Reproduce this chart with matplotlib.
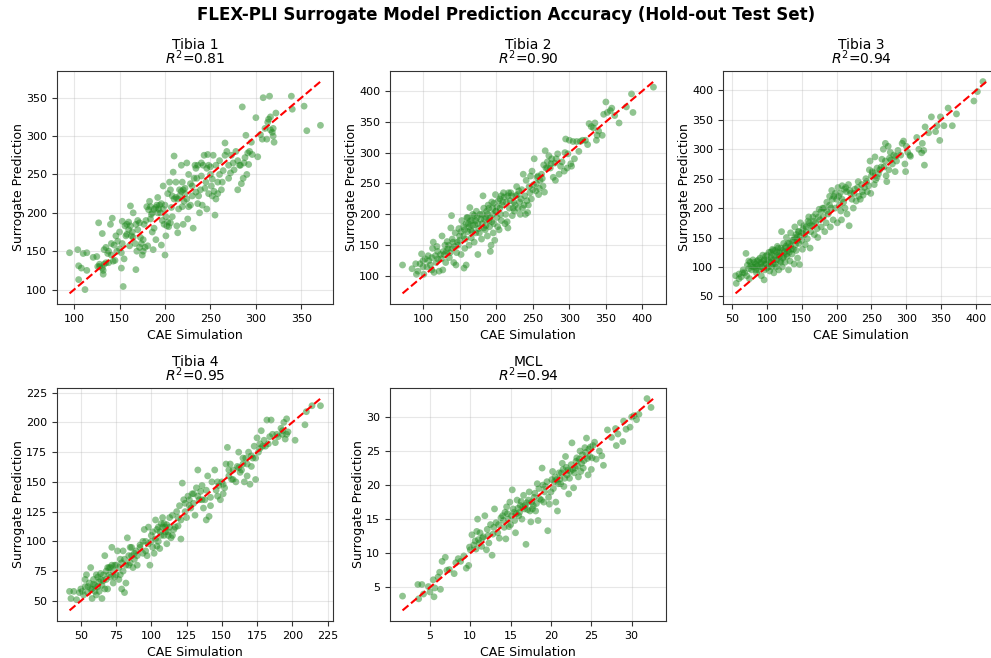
import numpy as np
import matplotlib
matplotlib.use('Agg')
import matplotlib.pyplot as plt

# Values (CAE simulation, surrogate prediction)

tibia1_pts = [
	(95,148),(104,152),(105,131),(105,113),(108,128),(110,147),(112,100),(114,148),(114,125),(121,142),
	(125,143),(126,130),(127,187),(128,130),(131,173),(132,125),(132,120),(133,152),(135,155),(137,147),
	(138,135),(140,185),(141,160),(142,193),(143,137),(146,170),(148,163),(150,175),(152,148),(152,128),
	(153,189),(154,104),(155,140),(157,170),(158,185),(160,188),(161,157),(162,209),(163,170),(164,175),
	(165,200),(167,160),(168,126),(169,150),(170,178),(172,187),(173,168),(175,145),(176,165),(177,185),
	(178,155),(180,208),(181,157),(183,215),(184,192),(185,198),(186,175),(187,152),(188,180),(190,165),
	(191,210),(192,220),(193,205),(195,200),(196,158),(197,190),(198,235),(200,145),(200,210),(201,170),
	(202,183),(203,225),(205,240),(206,187),(207,207),(208,195),(209,253),(210,274),(212,220),(213,183),
	(214,174),(215,205),(216,230),(218,262),(219,240),(220,185),(221,215),(222,232),(224,265),(225,192),
	(226,250),(228,210),(230,235),(231,180),(233,262),(234,227),(235,245),(236,212),(238,200),(240,265),
	(241,210),(243,275),(245,240),(246,205),(247,276),(248,225),(250,260),(251,235),(252,222),(253,275),
	(255,197),(256,218),(258,240),(260,268),(262,230),(264,255),(266,291),(268,280),(270,245),(272,252),
	(275,265),(278,280),(280,230),(282,262),(284,238),(285,338),(286,245),(288,272),(289,301),(290,250),
	(292,263),(295,292),(296,276),(300,324),(302,273),(305,302),(307,296),(308,350),(310,310),(312,296),
	(314,322),(315,352),(316,325),(318,305),(319,310),(320,292),(322,330),(339,352),(340,335),(353,339),
	(356,307),(371,314),
	(156,183),(158,172),(160,178),(162,183),(165,168),(168,185),(170,190),(172,155),(174,160),(176,150),
	(179,190),(182,204),(184,208),(186,200),(188,205),(190,207),(192,200),(194,210),(196,212),(198,205),
	(199,185),(201,195),(203,188),(204,182),(206,230),(208,222),(210,218),(212,240),(214,218),(216,222),
	(218,228),(219,208),(220,230),(222,225),(224,218),(226,208),(228,238),(230,222),(232,245),(234,258),
	(236,262),(237,222),(239,230),(240,248),(242,262),(244,232),(246,258),(248,262),(250,250),(252,244),
	(254,228),(256,262),(258,225),(260,250),(263,240),(266,275),(270,262),(273,275),(276,256),(280,268),
	(283,262),(287,265),(291,278),(293,280),(313,318),(316,308),(319,300),(138,150),(144,158),(147,150),
	(150,153),(153,160),(145,138),(135,135),(141,145),(128,133),(131,128),(133,133),
]

tibia2_pts = [
	(72,118),(85,112),(90,120),(91,103),(93,108),(98,136),(100,125),(101,103),(103,128),(105,115),
	(107,133),(110,118),(112,110),(113,145),(114,155),(115,106),(117,133),(119,148),(120,140),(122,108),
	(124,135),(126,165),(127,110),(128,140),(130,150),(131,122),(133,156),(134,145),(136,130),(138,178),
	(139,198),(140,160),(141,155),(142,122),(144,170),(145,118),(146,138),(148,150),(149,177),(150,165),
	(152,135),(153,190),(155,180),(156,113),(157,145),(158,160),(159,118),(160,195),(161,172),(162,185),
	(163,150),(164,211),(165,175),(166,162),(167,190),(168,200),(170,155),(171,183),(172,170),(174,195),
	(175,135),(176,177),(178,200),(180,160),(181,185),(182,230),(183,210),(185,175),(186,195),(187,205),
	(188,165),(189,215),(190,190),(191,180),(192,140),(193,150),(194,220),(195,200),(196,170),(197,185),
	(198,158),(199,232),(200,205),(201,212),(202,180),(204,175),(205,225),(206,200),(207,190),(208,215),
	(210,235),(212,185),(213,200),(215,188),(216,178),(217,235),(218,210),(220,235),(222,198),(224,220),
	(225,205),(227,230),(228,245),(230,210),(232,220),(233,200),(235,240),(237,265),(238,215),(240,200),
	(241,255),(242,222),(243,203),(245,245),(247,262),(248,225),(249,270),(250,240),(252,290),(254,238),
	(255,250),(257,262),(258,232),(260,255),(262,265),(264,246),(265,280),(266,236),(267,303),(268,275),
	(270,285),(272,295),(274,275),(276,290),(278,260),(280,283),(281,255),(284,298),(286,265),(290,285),
	(293,270),(294,300),(295,322),(297,275),(300,320),(302,282),(303,278),(305,318),(307,290),(310,318),
	(313,302),(315,318),(318,320),(322,320),(325,313),(327,347),(330,342),(333,340),(335,348),(337,320),
	(338,328),(340,335),(345,328),(347,362),(350,382),(352,365),(356,368),(358,372),(362,360),(368,348),
	(378,374),(385,395),(387,365),(415,406),
	(150,158),(152,172),(155,165),(157,175),(159,185),(161,195),(163,180),(165,190),(167,172),(168,182),
	(170,198),(172,190),(173,205),(175,185),(177,170),(179,192),(181,200),(183,178),(184,192),(186,182),
	(188,200),(190,210),(192,195),(194,188),(195,210),(197,218),(199,205),(201,195),(203,222),(205,210),
	(207,230),(209,220),(211,228),(214,220),(216,230),(219,222),(221,230),(223,210),(226,215),(229,232),
	(231,238),(234,225),(236,210),(239,230),(244,215),(246,235),(251,248),(256,260),(259,242),(263,258),
	(270,275),(275,282),(282,290),(288,278),(298,298),(120,128),(125,128),(129,135),(132,140),(135,150),
	(137,138),(140,145),(143,148),(147,155),(118,122),(112,130),(108,125),(100,115),(96,120),
]

tibia3_pts = [
	(55,85),(56,72),(60,88),(63,83),(65,90),(68,90),(70,123),(72,103),(74,97),(75,80),
	(76,108),(78,95),(80,112),(82,100),(84,105),(85,90),(86,110),(88,95),(90,115),(91,105),
	(92,85),(93,100),(95,110),(96,78),(97,95),(98,118),(99,105),(100,120),(102,100),(103,110),
	(104,93),(105,125),(106,115),(107,100),(108,130),(109,105),(110,90),(111,118),(112,128),(113,100),
	(114,112),(115,135),(116,120),(117,95),(118,125),(119,110),(120,132),(121,160),(122,100),(123,115),
	(124,140),(125,125),(126,108),(127,135),(128,150),(129,118),(130,128),(131,95),(132,140),(133,110),
	(134,158),(135,130),(136,122),(138,145),(139,105),(140,168),(141,138),(142,128),(143,150),(144,115),
	(145,160),(146,140),(147,104),(148,175),(150,145),(151,130),(152,165),(154,155),(155,138),(156,168),
	(158,148),(160,185),(161,175),(162,132),(163,160),(165,170),(167,178),(168,155),(170,190),(172,165),
	(173,150),(175,198),(176,180),(178,168),(180,200),(181,185),(183,160),(185,175),(186,210),(188,190),
	(190,220),(191,168),(192,200),(193,230),(195,180),(196,220),(198,200),(200,215),(201,175),(202,235),
	(204,205),(205,225),(206,195),(207,180),(208,238),(210,210),(211,232),(212,200),(214,228),(215,190),
	(217,240),(218,170),(220,225),(222,215),(224,200),(226,232),(228,212),(230,235),(232,220),(234,215),
	(236,240),(238,222),(240,235),(242,250),(244,228),(246,238),(247,265),(248,280),(249,225),(250,255),
	(252,260),(254,240),(255,287),(256,248),(258,268),(260,258),(262,265),(265,283),(267,300),(268,270),
	(270,310),(271,255),(272,245),(274,305),(275,265),(276,285),(278,282),(280,275),(282,290),(284,262),
	(286,280),(288,298),(292,290),(294,310),(296,314),(298,275),(299,262),(300,305),(302,295),(305,290),
	(306,288),(315,320),(318,300),(322,294),(323,310),(325,298),(326,273),(327,338),(332,328),(336,355),
	(342,330),(344,340),(348,315),(349,355),(354,340),(360,370),(366,340),(372,360),(397,382),(402,398),
	(410,415),
	(80,100),(82,108),(84,95),(86,102),(88,112),(90,100),(92,108),(94,120),(96,112),(98,105),
	(100,98),(101,112),(103,125),(105,108),(107,120),(109,128),(110,112),(112,105),(114,125),(116,132),
	(118,118),(120,108),(122,128),(124,118),(126,132),(128,122),(130,140),(132,125),(134,135),(136,145),
	(138,130),(140,150),(142,155),(144,145),(146,160),(148,152),(150,158),(153,170),(156,160),(159,178),
	(162,170),(166,185),(170,175),(174,185),(178,195),(182,200),(186,195),(190,205),(194,215),(198,225),
	(203,220),(208,215),(213,235),(219,230),(225,225),(231,245),(237,228),(243,245),(251,262),(258,252),
	(264,270),(270,280),(277,295),(285,288),(60,80),(66,95),(71,85),(77,102),(74,110),
]

tibia4_pts = [
	(42,58),(43,52),(45,58),(47,51),(49,57),(50,60),(52,55),(53,62),(54,72),(55,57),
	(56,65),(57,78),(58,52),(58,60),(59,68),(60,63),(61,55),(62,70),(63,58),(64,73),
	(65,52),(65,63),(66,67),(67,88),(68,75),(69,60),(70,78),(71,70),(72,95),(73,65),
	(74,80),(75,72),(76,92),(77,68),(78,85),(79,60),(80,75),(80,92),(81,57),(82,65),
	(83,103),(84,80),(85,95),(86,88),(87,78),(88,85),(89,92),(90,80),(92,97),(94,90),
	(95,110),(96,100),(97,88),(98,112),(99,80),(100,105),(101,95),(102,90),(103,118),(104,110),
	(105,100),(106,94),(107,115),(108,120),(109,105),(110,112),(111,98),(112,108),(113,120),(114,103),
	(115,122),(116,110),(118,125),(119,113),(120,130),(121,102),(122,149),(123,135),(124,125),(125,120),
	(126,138),(127,130),(128,128),(129,140),(130,132),(131,122),(132,145),(133,160),(134,135),(135,142),
	(136,147),(137,128),(138,135),(139,118),(140,155),(141,121),(142,130),(143,150),(145,160),(146,143),
	(147,138),(148,147),(149,135),(150,150),(151,140),(152,145),(153,165),(154,179),(155,155),(156,165),
	(157,152),(158,160),(160,150),(161,163),(162,175),(163,158),(164,160),(165,165),(166,150),(167,170),
	(168,155),(169,175),(170,148),(171,163),(172,170),(173,180),(174,152),(175,187),(176,175),(177,178),
	(178,193),(179,180),(180,185),(182,202),(183,182),(185,202),(186,190),(188,183),(190,188),(192,195),
	(193,190),(194,200),(195,186),(196,203),(197,192),(202,185),(209,198),(210,209),(214,214),(220,214),
	(51,58),(53,68),(55,62),(57,60),(59,64),(60,58),(61,72),(62,62),(63,66),(64,68),
	(66,72),(67,60),(68,68),(69,78),(70,72),(71,78),(72,80),(73,75),(74,70),(75,80),
	(77,78),(78,72),(79,82),(81,85),(82,80),(84,88),(85,82),(86,95),(88,90),(90,88),
	(92,95),(94,100),(96,92),(98,98),(100,100),(101,108),(103,102),(104,96),(105,112),(106,108),
	(107,105),(108,112),(109,115),(110,108),(111,114),(112,105),(113,112),(115,105),(117,112),(119,120),
	(121,118),(124,132),(127,135),(130,140),(133,138),(136,135),(139,143),(142,137),(147,150),(151,148),
	(155,160),(158,152),(162,162),(165,170),(168,165),(171,172),(174,170),(177,182),(181,180),(184,188),
	(189,190),(193,193),(196,190),
]

mcl_pts = [
	(1.6,3.7),(3.5,5.4),(3.6,3.3),(4.0,5.4),(4.2,4.0),(4.8,5.1),(5.0,4.3),(5.4,6.1),(5.5,3.6),(5.6,4.9),
	(6.0,6.5),(6.2,7.2),(6.3,4.7),(6.5,8.8),(6.9,9.4),(7.1,7.5),(7.4,7.6),(8.0,7.0),(8.2,8.6),(8.5,9.2),
	(8.8,8.8),(9.2,9.6),(9.5,7.8),(9.8,8.2),(10.0,10.5),(10.2,12.7),(10.4,11.2),(10.7,10.6),(10.9,15.0),(11.0,12.0),
	(11.2,13.0),(11.4,11.0),(11.6,12.4),(11.8,15.5),(12.0,10.5),(12.1,13.5),(12.3,11.5),(12.5,14.2),(12.7,9.7),(12.8,12.8),
	(13.0,16.5),(13.2,14.5),(13.4,13.0),(13.6,12.2),(13.8,15.2),(14.0,15.5),(14.2,13.8),(14.4,12.1),(14.5,16.8),(14.7,15.0),
	(14.9,17.5),(15.0,14.2),(15.2,19.3),(15.4,16.0),(15.6,13.0),(15.8,17.8),(16.0,15.5),(16.2,17.0),(16.4,15.0),(16.6,18.5),
	(16.8,17.0),(16.9,11.3),(17.1,16.4),(17.3,19.0),(17.5,14.6),(17.7,16.5),(17.9,18.2),(18.1,16.2),(18.3,20.2),(18.4,14.8),
	(18.6,18.0),(18.9,22.5),(19.1,17.5),(19.3,19.8),(19.6,13.3),(19.8,17.2),(20.0,19.0),(20.2,22.0),(20.4,20.5),(20.6,17.5),
	(20.8,16.2),(21.0,21.8),(21.2,20.2),(21.4,23.2),(21.6,19.8),(21.8,24.2),(22.0,21.5),(22.2,18.7),(22.4,22.0),(22.6,26.2),
	(22.8,19.6),(23.0,22.5),(23.2,24.0),(23.4,21.2),(23.6,25.0),(23.8,23.2),(24.0,22.5),(24.2,25.5),(24.4,26.9),(24.6,21.5),
	(24.8,24.2),(25.0,22.3),(25.2,25.8),(25.4,26.3),(25.6,23.8),(26.0,25.0),(26.3,24.3),(26.5,22.9),(27.0,28.1),(27.5,27.0),
	(28.0,28.3),(28.1,25.8),(28.3,27.5),(28.9,26.4),(29.0,29.4),(29.3,28.2),(29.8,28.5),(30.0,30.0),(30.3,30.2),(30.6,29.6),
	(30.9,30.4),(31.9,32.7),(32.4,31.4),
	(12.2,12.6),(12.9,13.8),(13.5,14.2),(14.1,14.8),(14.3,16.0),(14.6,15.8),(14.8,13.9),(15.1,15.5),(15.3,16.5),(15.5,14.8),
	(15.7,15.8),(15.9,16.6),(16.1,16.0),(16.3,17.6),(16.5,16.8),(16.7,16.5),(17.0,17.4),(17.2,17.8),(17.4,16.2),(17.6,17.5),
	(17.8,17.0),(18.0,18.8),(18.2,17.3),(18.5,19.5),(18.8,17.8),(19.0,20.0),(19.2,19.0),(19.5,20.5),(19.7,18.2),(20.1,20.8),
	(20.3,19.5),(20.5,21.2),(20.7,20.8),(20.9,20.2),(21.1,20.9),(21.3,21.8),(21.5,22.3),(21.7,21.0),(21.9,22.6),(22.1,22.2),
	(22.3,21.0),(22.5,23.0),(22.7,22.3),(22.9,21.8),(23.1,23.5),(23.3,22.8),(23.5,23.8),(23.7,22.0),(23.9,24.5),(24.1,23.6),
	(24.3,24.8),(24.5,23.9),(24.7,25.3),(24.9,25.6),(25.1,24.0),(11.5,12.2),(10.6,11.8),(11.1,11.5),(9.9,10.9),(10.8,13.2),
]

names = ['Tibia 1', 'Tibia 2', 'Tibia 3', 'Tibia 4', 'MCL']
r2_scores = [0.81, 0.90, 0.94, 0.95, 0.94]
all_pts = [tibia1_pts, tibia2_pts, tibia3_pts, tibia4_pts, mcl_pts]

W, H = 991., 658.
# axes boxes in pixels: left, top
boxes = [(57, 71), (390, 71), (723, 71), (57, 388), (390, 388)]
ax_w, ax_h = 276., 233.

fig = plt.figure(figsize=(9.91, 6.58), dpi=100)

for i, name in enumerate(names):
	left, top = boxes[i]
	ax = fig.add_axes([left / W, 1 - (top + ax_h) / H, ax_w / W, ax_h / H])
	pts = np.array(all_pts[i])
	y_true = pts[:,0]
	y_pred = pts[:,1]

	ax.scatter(y_true, y_pred, alpha=0.5, s=24, color='forestgreen', edgecolors='none')

	# Perfect prediction line
	lo = min(y_true.min(), y_pred.min())
	hi = max(y_true.max(), y_pred.max())
	ax.plot([lo, hi], [lo, hi], 'r--', lw=1.5)

	ax.set_title('%s\n$R^2$=%.2f' % (name, r2_scores[i]), fontsize=10, linespacing=0.8, pad=5)
	ax.set_xlabel('CAE Simulation', fontsize=9)
	ax.set_ylabel('Surrogate Prediction', fontsize=9, labelpad=1)
	ax.tick_params(labelsize=8, color='#333333')
	for sp in ax.spines.values():
		sp.set_color('#333333')
	ax.grid(True, alpha=0.3)

fig.text(506 / W, 1 - 15 / H, 'FLEX-PLI Surrogate Model Prediction Accuracy (Hold-out Test Set)',
	fontsize=12, fontweight='bold', ha='center', va='center')
plt.savefig('out.png', dpi=100)
